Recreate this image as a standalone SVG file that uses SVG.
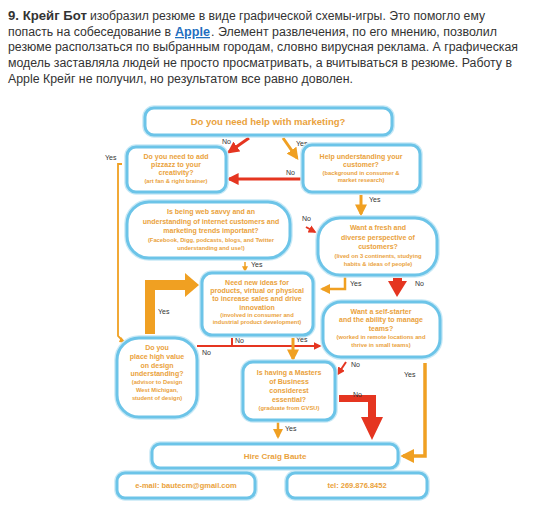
<svg xmlns="http://www.w3.org/2000/svg" width="540" height="523" viewBox="0 0 540 523">
<defs>
<style>
.intro{font-family:"Liberation Sans",Arial,sans-serif;font-size:12.5px;fill:#333}
.b{font-weight:bold}
.lnk{font-weight:bold;fill:#1f6fc0;text-decoration:underline}
.box{fill:#fff;stroke:#6cc4e8;stroke-width:3}
.halo{fill:none;stroke:#c8e9f6;stroke-width:5.5}
.q{font-family:"Liberation Sans",Arial,sans-serif;font-weight:bold;fill:#eaa23c;text-anchor:middle;font-size:7px}
.s{font-size:5.8px}
.big{font-size:9.5px}
.lbl{font-family:"Liberation Sans",Arial,sans-serif;font-size:7px;fill:#333}
.oa{stroke:#f0a022;fill:none}
.ra{stroke:#e53520;fill:none}
</style>
<marker id="mo" viewBox="0 0 10 10" refX="8" refY="5" markerWidth="4" markerHeight="4" orient="auto"><path d="M0,0L10,5L0,10z" fill="#f0a022"/></marker>
<marker id="mr" viewBox="0 0 10 10" refX="8" refY="5" markerWidth="4" markerHeight="4" orient="auto"><path d="M0,0L10,5L0,10z" fill="#e53520"/></marker>
</defs>
<rect width="540" height="523" fill="#fff"/>
<g id="intro">
<text class="intro b" x="8" y="20" textLength="79" lengthAdjust="spacingAndGlyphs">9. Крейг Бот</text>
<text class="intro" x="90" y="20" textLength="395" lengthAdjust="spacingAndGlyphs">изобразил резюме в виде графической схемы-игры. Это помогло ему</text>
<text class="intro" x="8" y="36" textLength="163" lengthAdjust="spacingAndGlyphs">попасть на собеседование в</text>
<text class="intro lnk" x="175" y="36" textLength="35" lengthAdjust="spacingAndGlyphs">Apple</text>
<text class="intro" x="211" y="36" textLength="286" lengthAdjust="spacingAndGlyphs">. Элемент развлечения, по его мнению, позволил</text>
<text class="intro" x="8" y="51" textLength="510" lengthAdjust="spacingAndGlyphs">резюме расползаться по выбранным городам, словно вирусная реклама. А графическая</text>
<text class="intro" x="8" y="67" textLength="504" lengthAdjust="spacingAndGlyphs">модель заставляла людей не просто просматривать, а вчитываться в резюме. Работу в</text>
<text class="intro" x="8" y="83" textLength="345" lengthAdjust="spacingAndGlyphs">Apple Крейг не получил, но результатом все равно доволен.</text>
</g>
<g id="connectors">
<line class="ra" x1="249" y1="138" x2="229" y2="152" stroke-width="3" marker-end="url(#mr)"/>
<line class="oa" x1="283" y1="138" x2="297" y2="158" stroke-width="3" marker-end="url(#mo)"/>
<line class="ra" x1="301" y1="179" x2="229" y2="179" stroke-width="3" marker-end="url(#mr)"/>
<polyline class="oa" points="122,164 118,164 118,336 123,341" stroke-width="1.8"/>
<path d="M121,337 L126,343 L119,342z" fill="#f0a022"/>
<line class="oa" x1="361" y1="195" x2="361" y2="214" stroke-width="3" marker-end="url(#mo)"/>
<line class="ra" x1="306" y1="227" x2="315" y2="232" stroke-width="2" marker-end="url(#mr)"/>
<line class="oa" x1="245" y1="262" x2="245" y2="271" stroke-width="1.5" marker-end="url(#mo)"/>
<polyline class="oa" points="345,277 345,289 322,289" stroke-width="2.5" marker-end="url(#mo)"/>
<path d="M393,278 L393,281 L388,281 L397,297 L407,281 L402,281 L402,278z" fill="#e53520"/>
<path d="M145,334 L145,280 L185,280 L185,273 L199,285 L185,297 L185,290 L155,290 L155,334z" fill="#f0a022"/>
<polyline class="ra" points="197,346 320,346" stroke-width="2" marker-end="url(#mr)"/>
<line class="ra" x1="232" y1="338" x2="232" y2="346" stroke-width="2"/>
<line class="oa" x1="293" y1="338" x2="293" y2="359" stroke-width="3" marker-end="url(#mo)"/>
<line class="ra" x1="346" y1="362" x2="338" y2="374" stroke-width="2" marker-end="url(#mr)"/>
<path d="M339,395 L376,395 L376,417 L383,417 L372,440 L361,417 L368,417 L368,402 L339,402z" fill="#e53520"/>
<polyline class="oa" points="425,363 425,456 403,456" stroke-width="3.5" marker-end="url(#mo)"/>
<line class="oa" x1="278" y1="422" x2="278" y2="437" stroke-width="2.5" marker-end="url(#mo)"/>
<g class="lbl">
<text x="222" y="144">No</text>
<text x="296" y="146">Yes</text>
<text x="286" y="175">No</text>
<text x="105" y="160">Yes</text>
<text x="369" y="202">Yes</text>
<text x="302" y="221">No</text>
<text x="251" y="267">Yes</text>
<text x="350" y="286">Yes</text>
<text x="415" y="286">No</text>
<text x="158" y="314">Yes</text>
<text x="235" y="343">No</text>
<text x="202" y="355">No</text>
<text x="296" y="342">Yes</text>
<text x="351" y="367">No</text>
<text x="353" y="397">No</text>
<text x="404" y="377">Yes</text>
<text x="285" y="431">Yes</text>
</g>
</g>
<g id="n1"><rect class="halo" x="145" y="108" width="247" height="27" rx="9"/><rect class="box" x="145" y="108" width="247" height="27" rx="9"/>
<text class="q big" x="268" y="125">Do you need help with marketing?</text></g>
<g id="n2"><rect class="halo" x="127" y="147" width="99" height="45" rx="9"/><rect class="box" x="127" y="147" width="99" height="45" rx="9"/>
<text class="q" x="176" y="159">Do you need to add</text><text class="q" x="176" y="167">pizzazz to your</text><text class="q" x="176" y="175">creativity?</text><text class="q s" x="176" y="183">(art fan &amp; right brainer)</text></g>
<g id="n3"><rect class="halo" x="303" y="145" width="117" height="47" rx="9"/><rect class="box" x="303" y="145" width="117" height="47" rx="9"/>
<text class="q" x="361" y="159">Help understanding your</text><text class="q" x="361" y="167">customer?</text><text class="q s" x="361" y="175">(background in consumer &amp;</text><text class="q s" x="361" y="182">market research)</text></g>
<g id="n4"><rect class="halo" x="127" y="202" width="163" height="56" rx="22"/><rect class="box" x="127" y="202" width="163" height="56" rx="22"/>
<text class="q" x="211" y="214">Is being web savvy and an</text><text class="q" x="211" y="224">understanding of internet customers and</text><text class="q" x="211" y="233">marketing trends important?</text><text class="q s" x="211" y="242">(Facebook, Digg, podcasts, blogs, and Twitter</text><text class="q s" x="211" y="250">understanding and use!)</text></g>
<g id="n5"><rect class="halo" x="318" y="218" width="119" height="57" rx="22"/><rect class="box" x="318" y="218" width="119" height="57" rx="22"/>
<text class="q" x="378" y="230">Want a fresh and</text><text class="q" x="378" y="240">diverse perspective of</text><text class="q" x="378" y="249">customers?</text><text class="q s" x="378" y="258">(lived on 3 continents, studying</text><text class="q s" x="378" y="266">habits &amp; ideas of people)</text></g>
<g id="n6"><rect class="halo" x="202" y="273" width="111" height="62" rx="10"/><rect class="box" x="202" y="273" width="111" height="62" rx="10"/>
<text class="q" x="257" y="285">Need new ideas for</text><text class="q" x="257" y="293">products, virtual or physical</text><text class="q" x="257" y="301">to increase sales and drive</text><text class="q" x="257" y="310">innovation</text><text class="q s" x="257" y="317">(involved in consumer and</text><text class="q s" x="257" y="324">industrial product development)</text></g>
<g id="n7"><rect class="halo" x="323" y="302" width="117" height="55" rx="18"/><rect class="box" x="323" y="302" width="117" height="55" rx="18"/>
<text class="q" x="381" y="314">Want a self-starter</text><text class="q" x="381" y="322">and the ability to manage</text><text class="q" x="381" y="331">teams?</text><text class="q s" x="381" y="339">(worked in remote locations and</text><text class="q s" x="381" y="347">thrive in small teams)</text></g>
<g id="n8"><rect class="halo" x="117" y="338" width="80" height="79" rx="22"/><rect class="box" x="117" y="338" width="80" height="79" rx="22"/>
<text class="q" x="157" y="350">Do you</text><text class="q" x="157" y="359">place high value</text><text class="q" x="157" y="368">on design</text><text class="q" x="157" y="376">understanding?</text><text class="q s" x="157" y="384">(advisor to Design</text><text class="q s" x="157" y="392">West Michigan,</text><text class="q s" x="157" y="400">student of design)</text></g>
<g id="n9"><rect class="halo" x="243" y="362" width="92" height="58" rx="10"/><rect class="box" x="243" y="362" width="92" height="58" rx="10"/>
<text class="q" x="289" y="375">Is having a Masters</text><text class="q" x="289" y="384">of Business</text><text class="q" x="289" y="393">considerest</text><text class="q" x="289" y="402">essential?</text><text class="q s" x="289" y="410">(graduate from GVSU)</text></g>
<g id="n10"><rect class="halo" x="152" y="444" width="246" height="24" rx="8"/><rect class="box" x="152" y="444" width="246" height="24" rx="8"/>
<text class="q" x="275" y="459" style="font-size:8px">Hire Craig Baute</text></g>
<g id="n11"><rect class="halo" x="117" y="473" width="138" height="25" rx="8"/><rect class="box" x="117" y="473" width="138" height="25" rx="8"/>
<text class="q" x="186" y="488" style="font-size:7.5px">e-mail: bautecm@gmail.com</text></g>
<g id="n12"><rect class="halo" x="287" y="473" width="140" height="25" rx="8"/><rect class="box" x="287" y="473" width="140" height="25" rx="8"/>
<text class="q" x="357" y="488" style="font-size:7.5px">tel: 269.876.8452</text></g>
</svg>
